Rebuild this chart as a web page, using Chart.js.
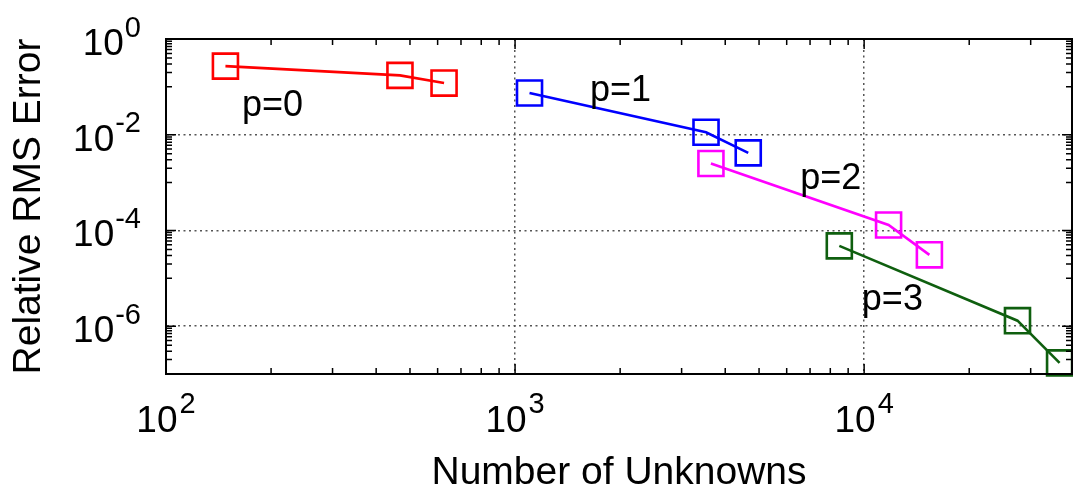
<!DOCTYPE html>
<html>
<head>
<meta charset="utf-8">
<script src="https://cdn.jsdelivr.net/npm/chart.js@4/dist/chart.umd.min.js"></script>
<style>
  html, body { margin: 0; padding: 0; background: #fff; overflow: hidden; }
  #wrap { width: 1073px; height: 495px; position: relative; }
  #errChart { display: block; }
</style>
</head>
<body>
<div id="wrap"><canvas id="errChart"></canvas></div>
<script>
// number of unknowns and relative RMS error, one pair of arrays per order p
const unknownsP0 = [148, 468, 626];
const errorP0 = [0.271, 0.174, 0.120];

const unknownsP1 = [1100, 3524, 4656];
const errorP1 = [0.0743, 0.01127, 0.00418];

const unknownsP2 = [3640, 11750, 15380];
const errorP2 = [0.00251, 1.30e-4, 3.09e-5];

const unknownsP3 = [8490, 27500, 36300];
const errorP3 = [4.75e-5, 1.30e-6, 1.71e-7];

const seriesNames = ["p=0", "p=1", "p=2", "p=3"];
const seriesColors = ["#ff0000", "#0000ff", "#ff00ff", "#0f5f0f"];

// major ticks and their exponent labels
const xTicks = [100, 1000, 10000];
const xTickExp = ["2", "3", "4"];
const yTicks = [1, 1e-2, 1e-4, 1e-6];
const yTickExp = ["0", "-2", "-4", "-6"];

// where the p=.. labels sit, in data units (left edge, baseline)
const labelAnchors = [
    { x: 165, y: 0.0247 },
    { x: 1640, y: 0.0506 },
    { x: 6560, y: 7.2e-4 },
    { x: 9850, y: 2.2e-6 }
];

const FONT = "'Liberation Sans', Arial, Helvetica, sans-serif";
Chart.defaults.font.family = FONT;
Chart.defaults.color = "#000";

function toPoints(xs, ys) {
    return xs.map((v, i) => ({ x: v, y: ys[i] }));
}

function makeSet(i, xs, ys) {
    return {
        label: seriesNames[i],
        data: toPoints(xs, ys),
        showLine: true,
        borderColor: seriesColors[i],
        backgroundColor: "transparent",
        borderWidth: 2.6,
        pointStyle: "rect",
        pointRadius: 17.7,
        pointHoverRadius: 17.7,
        pointBorderWidth: 2.6,
        pointBackgroundColor: "transparent",
        pointBorderColor: seriesColors[i],
        clip: false
    };
}

const decor = {
    id: "decor",
    afterDraw(chart) {
        const { ctx, chartArea: a, scales } = chart;
        const x = scales.x;
        const y = scales.y;
        ctx.save();

        // frame
        ctx.strokeStyle = "#000";
        ctx.lineWidth = 2;
        ctx.strokeRect(a.left, a.top, a.right - a.left, a.bottom - a.top);

        // tick marks, pointing inward, on all four sides
        ctx.lineWidth = 1.5;
        ctx.beginPath();
        function xTick(v, len) {
            const px = x.getPixelForValue(v);
            if (px < a.left - 0.5 || px > a.right + 0.5) return;
            ctx.moveTo(px, a.bottom); ctx.lineTo(px, a.bottom - len);
            ctx.moveTo(px, a.top); ctx.lineTo(px, a.top + len);
        }
        function yTick(v, len) {
            const py = y.getPixelForValue(v);
            if (py < a.top - 0.5 || py > a.bottom + 0.5) return;
            ctx.moveTo(a.left, py); ctx.lineTo(a.left + len, py);
            ctx.moveTo(a.right, py); ctx.lineTo(a.right - len, py);
        }
        xTicks.forEach(v => {
            xTick(v, 10);
            for (let m = 2; m <= 9; m++) xTick(v * m, 6);
        });
        yTicks.forEach(v => {
            yTick(v, 10);
            for (let m = 1; m <= 9; m++) yTick(v * m / 10, 6);
        });
        ctx.stroke();

        // tick labels: 10 with a raised exponent
        const baseFont = "37px " + FONT;
        const supFont = "29px " + FONT;
        ctx.fillStyle = "#000";
        ctx.textBaseline = "alphabetic";

        xTicks.forEach((v, i) => {
            const px = x.getPixelForValue(v);
            ctx.font = baseFont;
            const bw = ctx.measureText("10").width;
            ctx.font = supFont;
            const sw = ctx.measureText(xTickExp[i]).width;
            const left = px - (bw + 2 + sw) / 2;
            ctx.textAlign = "left";
            ctx.font = baseFont;
            ctx.fillText("10", left, a.bottom + 58);
            ctx.font = supFont;
            ctx.fillText(xTickExp[i], left + bw + 2, a.bottom + 39);
        });

        yTicks.forEach((v, i) => {
            const py = y.getPixelForValue(v);
            const right = a.left - 25;
            ctx.font = supFont;
            const sw = ctx.measureText(yTickExp[i]).width;
            ctx.textAlign = "right";
            ctx.fillText(yTickExp[i], right, py - 2.5);
            ctx.font = baseFont;
            ctx.fillText("10", right - sw - 1, py + 16);
        });

        // series labels
        ctx.font = "36px " + FONT;
        ctx.textAlign = "left";
        labelAnchors.forEach((p, i) => {
            ctx.fillText(seriesNames[i], x.getPixelForValue(p.x), y.getPixelForValue(p.y));
        });

        ctx.restore();
    }
};

new Chart(document.getElementById("errChart"), {
    type: "scatter",
    data: {
        datasets: [
            makeSet(0, unknownsP0, errorP0),
            makeSet(1, unknownsP1, errorP1),
            makeSet(2, unknownsP2, errorP2),
            makeSet(3, unknownsP3, errorP3)
        ]
    },
    options: {
        responsive: true,
        maintainAspectRatio: false,
        animation: false,
        layout: {
            autoPadding: false,
            padding: { left: 0, top: 39, right: 1, bottom: 0 }
        },
        plugins: {
            legend: { display: false },
            tooltip: { enabled: false }
        },
        scales: {
            x: {
                type: "logarithmic",
                min: 100,
                max: 39400,
                afterBuildTicks: axis => {
                    axis.ticks = xTicks.map(v => ({ value: v }));
                },
                ticks: { display: false },
                grid: { color: "#555", lineWidth: 1.5, drawTicks: false },
                border: { display: true, color: "#000", width: 2, dash: [2, 3.5] },
                title: {
                    display: true,
                    text: "Number of Unknowns",
                    font: { size: 39, lineHeight: 1 },
                    padding: { top: 79.5, bottom: 2.5 }
                }
            },
            y: {
                type: "logarithmic",
                min: 1e-7,
                max: 1,
                afterBuildTicks: axis => {
                    axis.ticks = yTicks.map(v => ({ value: v }));
                },
                ticks: { display: false },
                grid: { color: "#555", lineWidth: 1.5, drawTicks: false },
                border: { display: true, color: "#000", width: 2, dash: [2, 3.5] },
                title: {
                    display: true,
                    text: "Relative RMS Error",
                    font: { size: 39, lineHeight: 1 },
                    padding: { top: 10, bottom: 117 }
                }
            }
        }
    },
    plugins: [decor]
});
</script>
</body>
</html>
